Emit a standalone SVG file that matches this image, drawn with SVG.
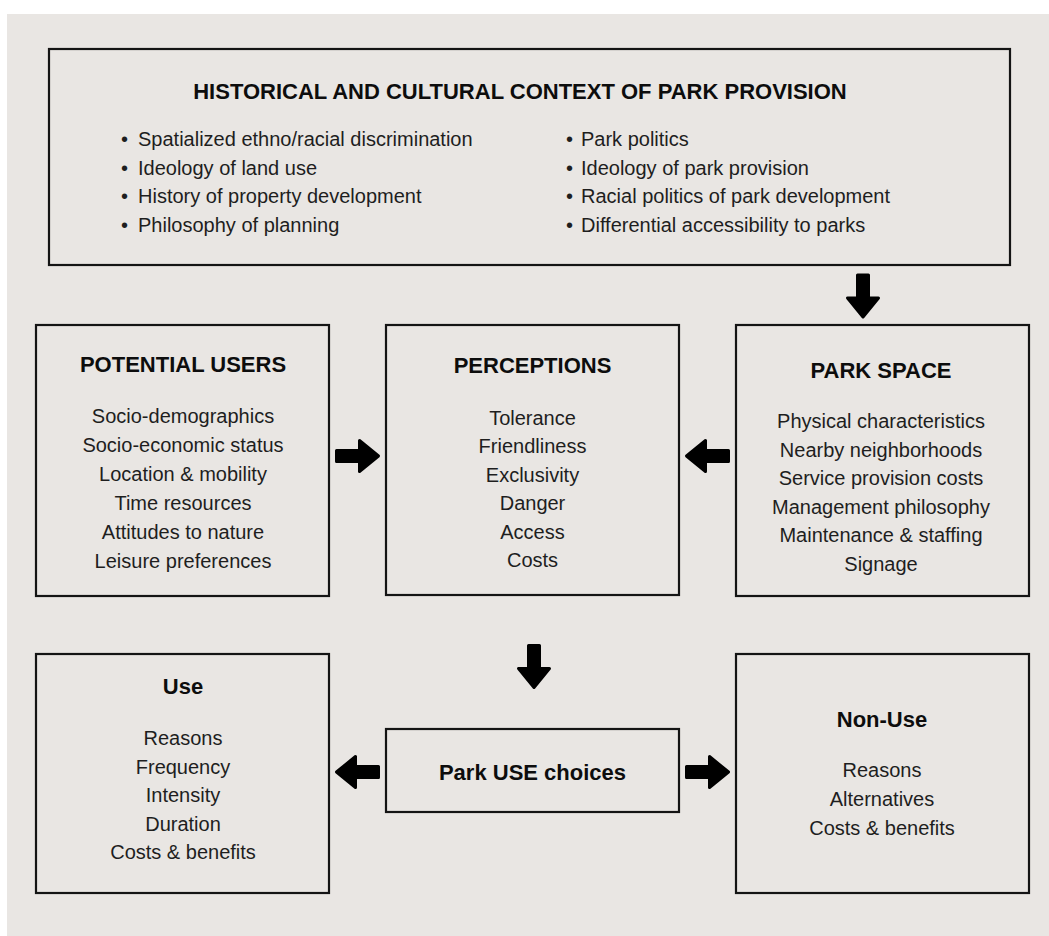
<svg xmlns="http://www.w3.org/2000/svg" width="1049" height="936" viewBox="0 0 1049 936">
<style>
.box{fill:none;stroke:#141414;stroke-width:2.2}
.t{font-family:"Liberation Sans",Arial,sans-serif;font-weight:bold;font-size:22px;fill:#0d0d0d;text-anchor:middle}
.b{font-family:"Liberation Sans",Arial,sans-serif;font-size:20px;fill:#1e1e1e;text-anchor:middle}
.l{font-family:"Liberation Sans",Arial,sans-serif;font-size:20px;fill:#1e1e1e}
.arr{fill:#000;stroke:#000;stroke-width:3;stroke-linejoin:round}
</style>
<defs>
<path id="ar" class="arr" d="M-21,-5.5 H2 V-15.5 L21,0 L2,15.5 V5.5 H-21 Z"/>
</defs>
<rect x="7" y="14" width="1042" height="922" fill="#e9e6e3"/>

<g id="context">
<rect class="box" x="49" y="49" width="961" height="216"/>
<text class="t" x="520" y="99">HISTORICAL AND CULTURAL CONTEXT OF PARK PROVISION</text>
<text class="l" y="146"><tspan x="121">•</tspan><tspan x="138">Spatialized ethno/racial discrimination</tspan></text>
<text class="l" y="175"><tspan x="121">•</tspan><tspan x="138">Ideology of land use</tspan></text>
<text class="l" y="203"><tspan x="121">•</tspan><tspan x="138">History of property development</tspan></text>
<text class="l" y="232"><tspan x="121">•</tspan><tspan x="138">Philosophy of planning</tspan></text>
<text class="l" y="146"><tspan x="566">•</tspan><tspan x="581">Park politics</tspan></text>
<text class="l" y="175"><tspan x="566">•</tspan><tspan x="581">Ideology of park provision</tspan></text>
<text class="l" y="203"><tspan x="566">•</tspan><tspan x="581">Racial politics of park development</tspan></text>
<text class="l" y="232"><tspan x="566">•</tspan><tspan x="581">Differential accessibility to parks</tspan></text>
</g>

<g id="potential-users">
<rect class="box" x="36" y="325" width="293" height="271"/>
<text class="t" x="183" y="372">POTENTIAL USERS</text>
<text class="b" x="183" y="423">Socio-demographics</text>
<text class="b" x="183" y="452">Socio-economic status</text>
<text class="b" x="183" y="481">Location &amp; mobility</text>
<text class="b" x="183" y="510">Time resources</text>
<text class="b" x="183" y="539">Attitudes to nature</text>
<text class="b" x="183" y="568">Leisure preferences</text>
</g>

<g id="perceptions">
<rect class="box" x="386" y="325" width="293" height="270"/>
<text class="t" x="532.5" y="373">PERCEPTIONS</text>
<text class="b" x="532.5" y="425">Tolerance</text>
<text class="b" x="532.5" y="453">Friendliness</text>
<text class="b" x="532.5" y="482">Exclusivity</text>
<text class="b" x="532.5" y="510">Danger</text>
<text class="b" x="532.5" y="539">Access</text>
<text class="b" x="532.5" y="567">Costs</text>
</g>

<g id="park-space">
<rect class="box" x="736" y="325" width="293" height="271"/>
<text class="t" x="881" y="378">PARK SPACE</text>
<text class="b" x="881" y="428">Physical characteristics</text>
<text class="b" x="881" y="457">Nearby neighborhoods</text>
<text class="b" x="881" y="485">Service provision costs</text>
<text class="b" x="881" y="514">Management philosophy</text>
<text class="b" x="881" y="542">Maintenance &amp; staffing</text>
<text class="b" x="881" y="571">Signage</text>
</g>

<g id="use">
<rect class="box" x="36" y="654" width="293" height="239"/>
<text class="t" x="183" y="694">Use</text>
<text class="b" x="183" y="745">Reasons</text>
<text class="b" x="183" y="773.5">Frequency</text>
<text class="b" x="183" y="802">Intensity</text>
<text class="b" x="183" y="830.5">Duration</text>
<text class="b" x="183" y="859">Costs &amp; benefits</text>
</g>

<g id="park-use-choices">
<rect class="box" x="386" y="729" width="293" height="83"/>
<text class="t" x="532.5" y="780">Park USE choices</text>
</g>

<g id="non-use">
<rect class="box" x="736" y="654" width="293" height="239"/>
<text class="t" x="882" y="727">Non-Use</text>
<text class="b" x="882" y="777">Reasons</text>
<text class="b" x="882" y="806">Alternatives</text>
<text class="b" x="882" y="835">Costs &amp; benefits</text>
</g>

<g id="connectors">
<use href="#ar" transform="translate(863,296) rotate(90)"/>
<use href="#ar" transform="translate(357.5,456)"/>
<use href="#ar" transform="translate(707.5,456) rotate(180)"/>
<use href="#ar" transform="translate(534,666.5) rotate(90)"/>
<use href="#ar" transform="translate(357.5,772) rotate(180)"/>
<use href="#ar" transform="translate(707.5,772)"/>
</g>
</svg>
